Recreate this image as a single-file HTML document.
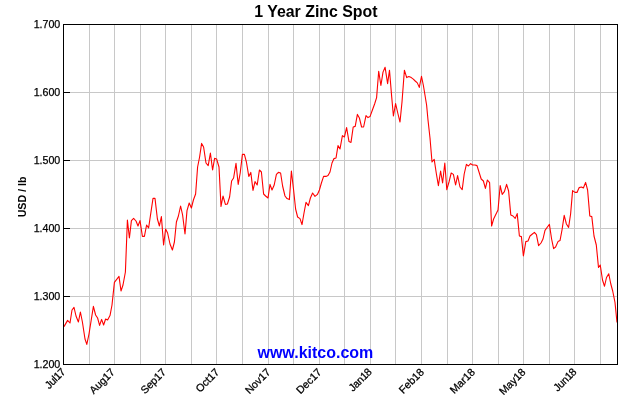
<!DOCTYPE html><html><head><meta charset="utf-8"><title>1 Year Zinc Spot</title><style>html,body{margin:0;padding:0;background:#fff}svg{display:block}text{font-family:"Liberation Sans",Arial,sans-serif}</style></head><body>
<svg width="630" height="400" viewBox="0 0 630 400">
<rect width="630" height="400" fill="#fff"/>
<g stroke="#c8c8c8" stroke-width="1" shape-rendering="crispEdges">
<line x1="89.5" y1="24" x2="89.5" y2="364"/>
<line x1="114.5" y1="24" x2="114.5" y2="364"/>
<line x1="140.5" y1="24" x2="140.5" y2="364"/>
<line x1="165.5" y1="24" x2="165.5" y2="364"/>
<line x1="191.5" y1="24" x2="191.5" y2="364"/>
<line x1="216.5" y1="24" x2="216.5" y2="364"/>
<line x1="242.5" y1="24" x2="242.5" y2="364"/>
<line x1="268.5" y1="24" x2="268.5" y2="364"/>
<line x1="293.5" y1="24" x2="293.5" y2="364"/>
<line x1="319.5" y1="24" x2="319.5" y2="364"/>
<line x1="344.5" y1="24" x2="344.5" y2="364"/>
<line x1="370.5" y1="24" x2="370.5" y2="364"/>
<line x1="395.5" y1="24" x2="395.5" y2="364"/>
<line x1="421.5" y1="24" x2="421.5" y2="364"/>
<line x1="447.5" y1="24" x2="447.5" y2="364"/>
<line x1="472.5" y1="24" x2="472.5" y2="364"/>
<line x1="498.5" y1="24" x2="498.5" y2="364"/>
<line x1="523.5" y1="24" x2="523.5" y2="364"/>
<line x1="549.5" y1="24" x2="549.5" y2="364"/>
<line x1="574.5" y1="24" x2="574.5" y2="364"/>
<line x1="600.5" y1="24" x2="600.5" y2="364"/>
<line x1="63" y1="92.5" x2="617" y2="92.5"/>
<line x1="63" y1="160.5" x2="617" y2="160.5"/>
<line x1="63" y1="228.5" x2="617" y2="228.5"/>
<line x1="63" y1="296.5" x2="617" y2="296.5"/>
</g>
<g stroke="#000" stroke-width="1" shape-rendering="crispEdges">
<line x1="63" y1="92.5" x2="70" y2="92.5"/>
<line x1="63" y1="160.5" x2="70" y2="160.5"/>
<line x1="63" y1="228.5" x2="70" y2="228.5"/>
<line x1="63" y1="296.5" x2="70" y2="296.5"/>
</g>
<polyline points="64,326.6 67.6,320.4 70,323 72,310 74,307.4 76,316 78.4,322 80.4,312 82.4,322 85,339 86.8,344.4 89,334 93.4,306.4 95.6,315 97.6,318 99.6,325.4 101.6,319.4 103.6,325 105.6,319 107.6,320 110,315.6 112,305 114.4,282.4 119,276.4 121,291 123,285 125.4,272 127.4,220 129.4,238 131.4,220.6 133.6,218.4 136,221 138,226 140,220.6 142.4,236.4 144.4,236.4 146.6,225 148.6,228 153,198.4 155,198.4 157.4,219 159.4,226 161.4,216.6 163.6,245 165.6,229 167.6,233 170,244 172.4,250 174.4,242 176.4,222 178.4,216 180.6,206 182.6,215 185,234 187,210.6 189.2,203 191.4,208 193.4,200 195.6,194 197.6,167 199.6,157 201.6,143.4 203.6,147 206,163 208.2,165.6 210.4,153 212.6,170 214.6,158.4 216.6,159 219,167 221,206.4 223,196 225.4,204.4 227.4,204 229.6,197 231.6,181 233.6,178 236,163.4 238.2,184.4 240.2,173 242.4,154.4 244.4,154.4 246.4,162 248.8,176.4 250.8,172.4 253,190.4 255,181.6 257.2,185 259.4,170 261.4,172 263.6,194 265.6,196 268,198 270,184.4 272,190 274.2,185 276.4,174.4 278.4,172.4 280.6,173 282.6,186 285,196 287,198.6 289.4,199.6 291.4,171 293.6,190 295.6,209 297.6,217 300,218.6 302,224.6 304,213 306,202.4 308.4,205.6 310.4,198 312.6,193 315,196.4 317.4,194.4 319.4,190 321.4,183 323.6,176.4 326,176.4 328,175.6 330,172 332,163 334,158.6 336,158 338,145.6 340,149 342.4,135.6 344.4,137 346.6,127.6 349,141.6 351,142.4 353.2,127 355.2,126.4 357.4,114.4 359.4,118 361.6,127 363.6,127 366,115.6 368,117.6 370,116.6 372.4,110 374.6,104 376.6,97.6 378.7,71.3 380.9,85.5 383,72.1 385.1,67.3 387.6,83.6 389.5,70.2 391.7,96.9 393.4,116 395.6,103.6 398,114 400,122 402,102 404.4,70.2 406.7,77.6 408.8,76.6 411.3,77.6 413.3,79.1 415.2,81 417.3,82.9 419.3,87.4 421.5,76.3 423.4,85.5 426.6,105 428,120 430,138 432,162 434.2,159.4 436.4,174 438.4,185.6 440.6,171 442.6,183 444.8,163 446.8,189.6 449,182 451.2,173 453.4,174.4 455.6,185 457.6,175.6 460,187 462.2,189.6 464.2,174 466.4,164.4 468.4,166 470.6,163.6 472.6,165 475,165 477,165.6 479,172 481.2,179 483.4,181 485.4,188.4 487.4,180 489.6,182.6 491.6,226 493.6,219 498,210 500.2,185.6 502.2,194.4 504.4,191.6 506.6,184.4 508.6,191 510.8,215 513,216 515.2,218.4 517.2,213.6 519.4,236 521.4,236.6 523.4,256 525.8,241.6 528,241 530,236 532.4,234 534.4,232.4 536.4,234.6 538.6,245.6 541,243 543,239 545,230.4 547.4,227 549.4,224.4 551.6,239 553.6,248.6 555.6,247 558,241.6 560,240.6 562,230 564.2,215.4 566.4,224 568.6,227.4 570.6,214 572.6,190.6 575,192.4 577,192.4 579.2,187.6 581.4,187 583.4,188 585.6,182.4 587.6,190 589.8,216 591.8,216.6 594,236 596.3,245 598.5,267.5 600.25,265 602.5,280 604.5,286.25 606.5,277.5 608.75,273.75 610.75,283.75 612.75,291.25 615,302.5 617,322.5" fill="none" stroke="#ff0000" stroke-width="1.1" stroke-linejoin="round"/>
<rect x="63.5" y="24.5" width="554" height="340" fill="none" stroke="#000" stroke-width="1" shape-rendering="crispEdges"/>
<text x="315.9" y="17" font-size="15.9" font-weight="bold" text-anchor="middle">1 Year Zinc Spot</text>
<text x="60.3" y="27.9" font-size="10.67" text-anchor="end" stroke="#000" stroke-width="0.25">1.700</text>
<text x="60.3" y="95.9" font-size="10.67" text-anchor="end" stroke="#000" stroke-width="0.25">1.600</text>
<text x="60.3" y="163.9" font-size="10.67" text-anchor="end" stroke="#000" stroke-width="0.25">1.500</text>
<text x="60.3" y="231.9" font-size="10.67" text-anchor="end" stroke="#000" stroke-width="0.25">1.400</text>
<text x="60.3" y="299.9" font-size="10.67" text-anchor="end" stroke="#000" stroke-width="0.25">1.300</text>
<text x="60.3" y="367.9" font-size="10.67" text-anchor="end" stroke="#000" stroke-width="0.25">1.200</text>
<text transform="translate(26,196.9) rotate(-90)" font-size="10.67" font-weight="bold" text-anchor="middle">USD / lb</text>
<text x="315.4" y="357.6" font-size="16" font-weight="bold" fill="#0000ff" text-anchor="middle">www.kitco.com</text>
<text transform="translate(65.8,372.8) rotate(-45)" font-size="10.67" text-anchor="end" stroke="#000" stroke-width="0.25" letter-spacing="-0.4">Jul17</text>
<text transform="translate(115.5,372.8) rotate(-45)" font-size="10.67" text-anchor="end" stroke="#000" stroke-width="0.25">Aug17</text>
<text transform="translate(166.7,372.8) rotate(-45)" font-size="10.67" text-anchor="end" stroke="#000" stroke-width="0.25">Sep17</text>
<text transform="translate(220.0,372.8) rotate(-45)" font-size="10.67" text-anchor="end" stroke="#000" stroke-width="0.25">Oct17</text>
<text transform="translate(271.2,372.8) rotate(-45)" font-size="10.67" text-anchor="end" stroke="#000" stroke-width="0.25">Nov17</text>
<text transform="translate(322.3,372.8) rotate(-45)" font-size="10.67" text-anchor="end" stroke="#000" stroke-width="0.25">Dec17</text>
<text transform="translate(372.2,372.8) rotate(-45)" font-size="10.67" text-anchor="end" stroke="#000" stroke-width="0.25" letter-spacing="-0.4">Jan18</text>
<text transform="translate(424.6,372.8) rotate(-45)" font-size="10.67" text-anchor="end" stroke="#000" stroke-width="0.25">Feb18</text>
<text transform="translate(475.7,372.8) rotate(-45)" font-size="10.67" text-anchor="end" stroke="#000" stroke-width="0.25">Mar18</text>
<text transform="translate(526.2,372.8) rotate(-45)" font-size="10.67" text-anchor="end" stroke="#000" stroke-width="0.25">May18</text>
<text transform="translate(577.0,372.8) rotate(-45)" font-size="10.67" text-anchor="end" stroke="#000" stroke-width="0.25" letter-spacing="-0.4">Jun18</text>
</svg></body></html>
